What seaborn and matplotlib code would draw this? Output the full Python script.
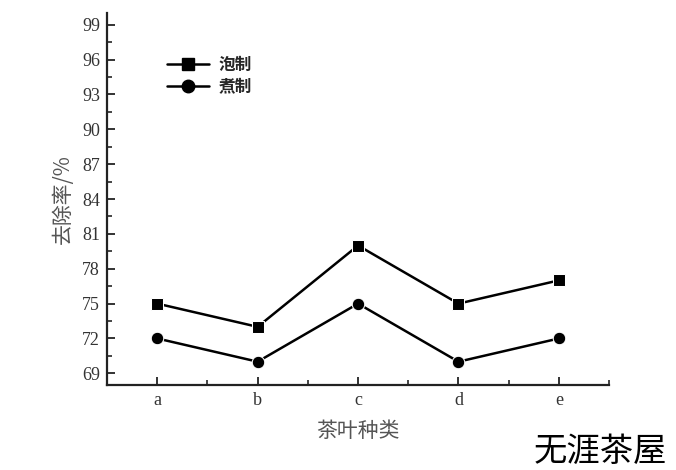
import matplotlib
matplotlib.use("Agg")
import matplotlib.pyplot as plt
import seaborn as sns
import pandas as pd
import numpy as np
from matplotlib.ticker import MultipleLocator
from matplotlib.lines import Line2D

categories = ["a", "b", "c", "d", "e"]
pao_values = [75, 73, 80, 75, 77]
zhu_values = [72, 70, 75, 70, 72]
series_names = ["泡制", "煮制"]
y_ticks = [69, 72, 75, 78, 81, 84, 87, 90, 93, 96, 99]

sns.set_style("ticks")
plt.rcParams['font.family'] = ['Liberation Serif', 'Noto Sans CJK SC']
cjk = ['Noto Sans CJK SC', 'DejaVu Sans']

df = pd.DataFrame({
    "x": list(range(len(categories))) * 2,
    "y": pao_values + zhu_values,
    "s": [series_names[0]] * len(categories) + [series_names[1]] * len(categories),
})

fig = plt.figure(figsize=(6.76, 4.70), dpi=100)
ax = fig.add_axes([0.1583, 0.181, 0.7427, 0.791])

sns.lineplot(data=df, x="x", y="y", style="s", markers={"泡制": "s", "煮制": "o"},
             dashes=False, color="black", linewidth=1.8, markersize=9, ax=ax,
             legend=False)

ax.set_xlim(-0.5, 4.5)
ax.set_ylim(68, 100)
ax.set_xticks(range(len(categories)))
ax.set_xticklabels(categories)
ax.set_yticks(y_ticks)
ax.xaxis.set_minor_locator(MultipleLocator(0.5))
ax.yaxis.set_minor_locator(MultipleLocator(1.5))
ax.tick_params(axis='both', which='major', direction='in', length=6, width=1.4,
               labelsize=13, colors='#333333', pad=5)
ax.tick_params(axis='both', which='minor', direction='in', length=3.5, width=1.2)
for sp in ["top", "right"]:
    ax.spines[sp].set_visible(False)
for sp in ["left", "bottom"]:
    ax.spines[sp].set_linewidth(1.6)
    ax.spines[sp].set_color('#222222')

ax.set_xlabel("茶叶种类", fontsize=15, family=cjk, color='#555555', labelpad=8)
ax.set_ylabel("去除率/%", fontsize=15, family=['Noto Sans CJK SC'], color='#555555', labelpad=6)

handles = [Line2D([], [], color='black', marker='s', markersize=8, linewidth=1.8),
           Line2D([], [], color='black', marker='o', markersize=9, linewidth=1.8)]
ax.legend(handles, series_names, loc='upper left', bbox_to_anchor=(0.09, 0.925),
          frameon=False, prop={'family': cjk, 'weight': 'bold', 'size': 12},
          handlelength=2.5, labelspacing=0.2, handletextpad=0.6)

fig.text(0.79, 0.04, "无涯茶屋", fontsize=24, family=cjk, color='black', va='center')

fig.savefig("out.png", dpi=100, facecolor='white')
